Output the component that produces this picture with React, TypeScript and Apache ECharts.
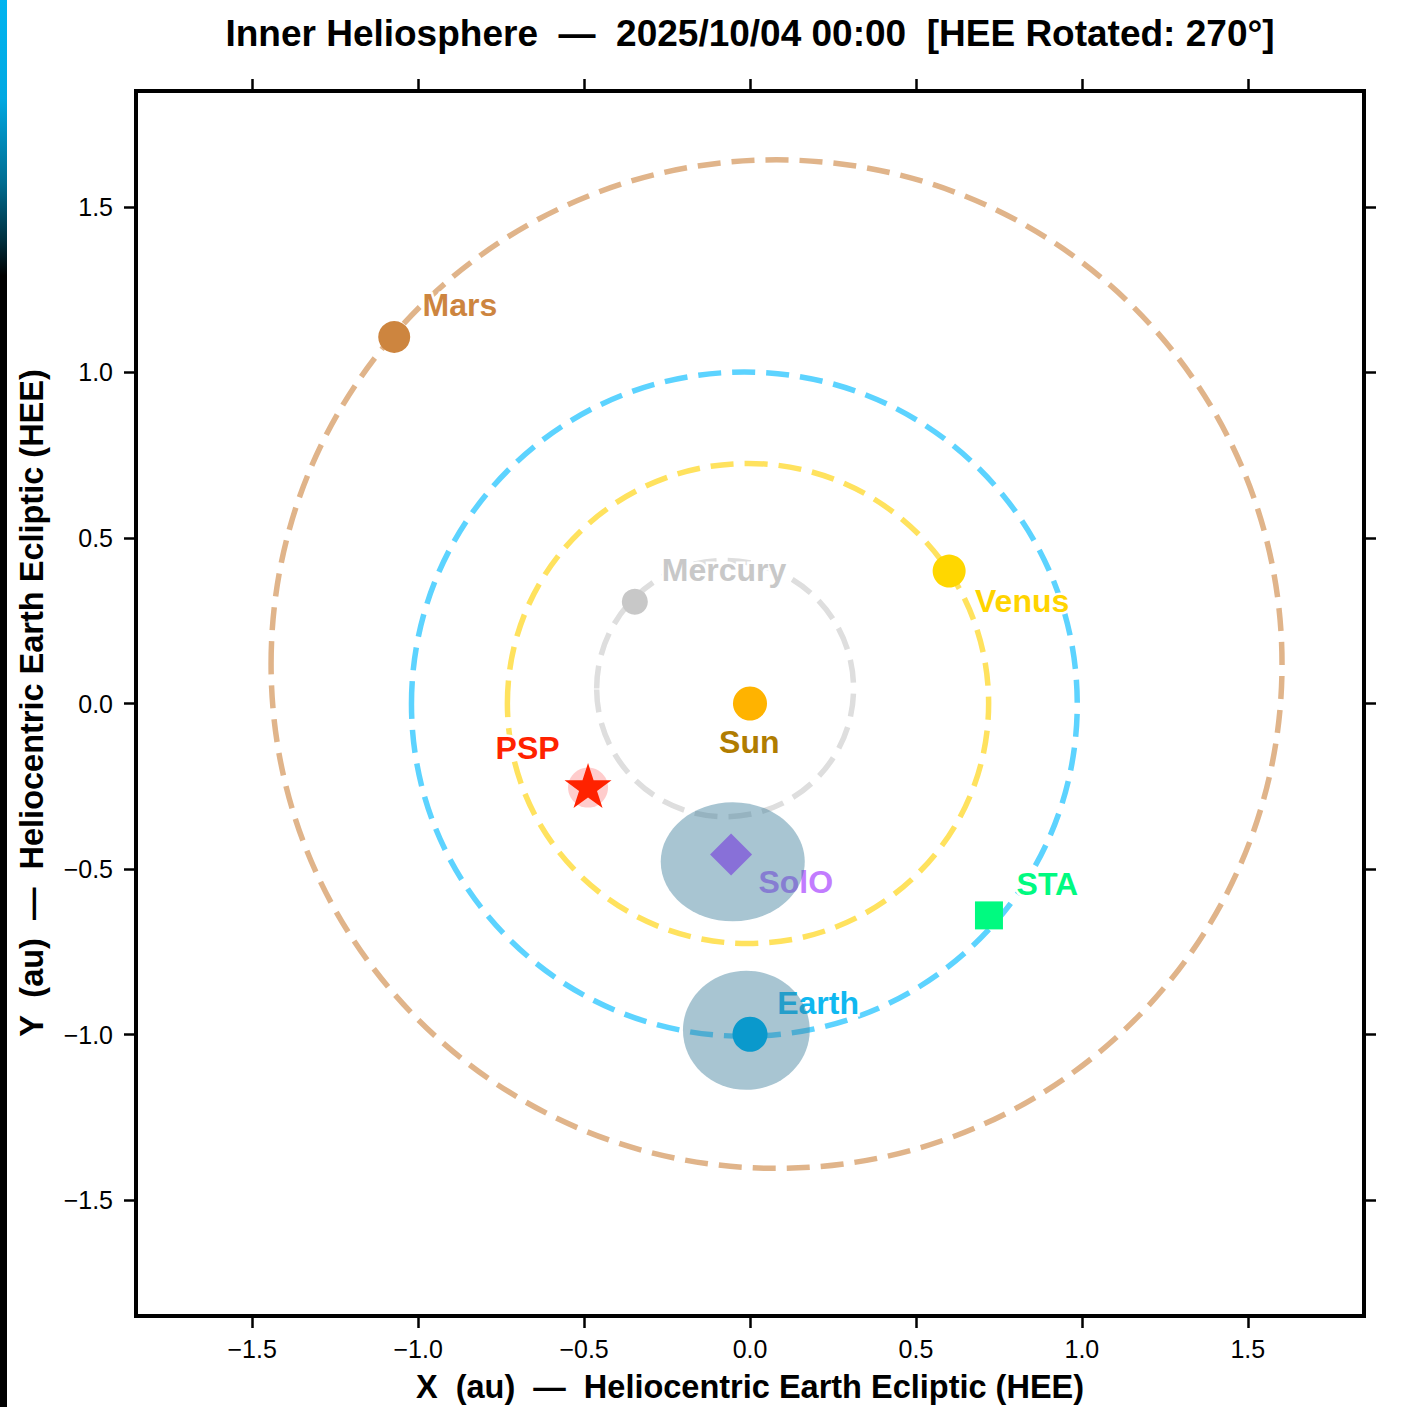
import React, { useEffect, useRef } from "react";
import * as echarts from "echarts";

const FONT = "'Liberation Sans', Arial, Helvetica, sans-serif";

const TITLE = "Inner Heliosphere  —  2025/10/04 00:00  [HEE Rotated: 270°]";
const X_NAME = "X  (au)  —  Heliocentric Earth Ecliptic (HEE)";
const Y_NAME = "Y  (au)  —  Heliocentric Earth Ecliptic (HEE)";

const AXIS_MIN = -1.85;
const AXIS_MAX = 1.85;
const X_TICKS = [-1.5, -1.0, -0.5, 0.0, 0.5, 1.0, 1.5];
const Y_TICKS = [-1.5, -1.0, -0.5, 0.0, 0.5, 1.0, 1.5];

// Orbits (au)
const ORBIT_NAMES = ["Mercury", "Venus", "Earth", "Mars"];
const ORBIT_CX = [-0.075, -0.006, -0.017, 0.08];
const ORBIT_CY = [0.045, 0.0, -0.002, 0.119];
const ORBIT_R = [0.387, 0.725, 1.003, 1.523];

// Bodies (au)
const BODY_NAMES = ["Sun", "Mercury", "Venus", "Earth", "Mars", "SolO", "PSP", "STA"];
const BODY_X = [0.0, -0.347, 0.6, 0.0, -1.072, -0.057, -0.488, 0.72];
const BODY_Y = [0.0, 0.307, 0.4, -0.999, 1.107, -0.456, -0.254, -0.64];

// Label anchor positions (au)
const LABEL_X = [-0.002, -0.078, 0.82, 0.205, -0.874, 0.138, -0.67, 0.896];
const LABEL_Y = [-0.116, 0.402, 0.311, -0.904, 1.204, -0.538, -0.134, -0.544];

// Field-of-view halos (au)
const HALO_NAMES = ["Earth", "SolO"];
const HALO_CX = [-0.011, -0.052];
const HALO_CY = [-0.987, -0.478];
const HALO_RX = [0.191, 0.217];
const HALO_RY = [0.18, 0.18];

// Styles
const ORBIT_COLORS = ["#DEDEDE", "#FFE25E", "#5CD3FF", "#E0B48A"];
const BODY_COLORS = ["#FFB300", "#C8C8C8", "#FFD700", "#0A99CC", "#CD853F", "#8870D8", "#FF2200", "#00FA80"];
const LABEL_COLORS = ["#B07C00", "#C8C8C8", "#FFD400", "#10B8F0", "#CD853F", "#C27CFF", "#FF2200", "#00FA80"];
const STAR =
  "path://M0,-100 L22.45,-30.9 L95.11,-30.9 L36.33,11.8 L58.78,80.9 L0,38.2 L-58.78,80.9 L-36.33,11.8 L-95.11,-30.9 L-22.45,-30.9 Z";
const BODY_SYMBOLS = ["circle", "circle", "circle", "circle", "circle", "diamond", STAR, "rect"];
const BODY_SIZES: any[] = [34, 26, 33, 35, 32, 42, [47, 45], 28];

const fmt = (v: number) => v.toFixed(1).replace("-", "\u2212");

export default function App() {
  const ref = useRef<HTMLDivElement>(null);

  useEffect(() => {
    if (!ref.current) return;
    const chart = echarts.init(ref.current, null, { renderer: "svg" });

    const orbitData = ORBIT_NAMES.map((n, i) => ({
      name: n,
      value: [ORBIT_CX[i], ORBIT_CY[i], ORBIT_R[i]],
    }));
    const haloData = HALO_NAMES.map((n, i) => ({
      name: n,
      value: [HALO_CX[i], HALO_CY[i], HALO_RX[i], HALO_RY[i]],
    }));
    const bodyData = BODY_NAMES.map((n, i) => ({
      name: n,
      value: [BODY_X[i], BODY_Y[i]],
      symbol: BODY_SYMBOLS[i],
      symbolSize: BODY_SIZES[i],
      symbolOffset: n === "PSP" ? [0, -2] : [0, 0],
      itemStyle: { color: BODY_COLORS[i], opacity: 1 },
    }));
    const labelData = BODY_NAMES.map((n, i) => ({
      name: n,
      value: [LABEL_X[i], LABEL_Y[i]],
    }));
    const pspIdx = BODY_NAMES.indexOf("PSP");

    const xBase = (position: string, showLabel: boolean) => ({
      type: "value",
      min: AXIS_MIN,
      max: AXIS_MAX,
      position,
      axisLine: { show: false, onZero: false },
      axisTick: {
        show: true,
        inside: false,
        length: 12,
        customValues: X_TICKS,
        lineStyle: { color: "#000", width: 2.5 },
      },
      axisLabel: {
        show: showLabel,
        customValues: X_TICKS,
        formatter: fmt,
        fontSize: 25,
        color: "#000",
        margin: 20,
        fontFamily: FONT,
      },
      splitLine: { show: false },
    });
    const yBase = (position: string, showLabel: boolean) => ({
      type: "value",
      min: AXIS_MIN,
      max: AXIS_MAX,
      position,
      axisLine: { show: false, onZero: false },
      axisTick: {
        show: true,
        inside: false,
        length: 12,
        customValues: Y_TICKS,
        lineStyle: { color: "#000", width: 2.5 },
      },
      axisLabel: {
        show: showLabel,
        customValues: Y_TICKS,
        formatter: fmt,
        fontSize: 25,
        color: "#000",
        margin: 23,
        fontFamily: FONT,
      },
      splitLine: { show: false },
    });

    const option: any = {
      animation: false,
      backgroundColor: "#fff",
      grid: {
        left: 136,
        top: 91,
        width: 1228,
        height: 1225,
        show: true,
        borderColor: "#000",
        borderWidth: 4,
        backgroundColor: "transparent",
      },
      graphic: [
        {
          type: "rect",
          left: 0,
          top: 0,
          shape: { width: 7, height: 1407 },
          style: {
            fill: new echarts.graphic.LinearGradient(0, 0, 0, 1, [
              { offset: 0, color: "#00B4F0" },
              { offset: 0.07, color: "#00A8E2" },
              { offset: 0.13, color: "#006C90" },
              { offset: 0.17, color: "#00303F" },
              { offset: 0.196, color: "#000000" },
              { offset: 1, color: "#000000" },
            ]),
          },
          silent: true,
        },
        {
          type: "text",
          x: 750,
          y: 33,
          style: {
            text: TITLE,
            fontSize: 37,
            fontWeight: "bold",
            fontFamily: FONT,
            fill: "#000",
            align: "center",
            verticalAlign: "middle",
          },
        },
        {
          type: "text",
          x: 750,
          y: 1387,
          style: {
            text: X_NAME,
            fontSize: 32.5,
            fontWeight: "bold",
            fontFamily: FONT,
            fill: "#000",
            align: "center",
            verticalAlign: "middle",
          },
        },
        {
          type: "text",
          x: 32,
          y: 703,
          rotation: Math.PI / 2,
          style: {
            text: Y_NAME,
            fontSize: 32.5,
            fontWeight: "bold",
            fontFamily: FONT,
            fill: "#000",
            align: "center",
            verticalAlign: "middle",
          },
        },
      ],
      xAxis: [xBase("bottom", true), xBase("top", false)],
      yAxis: [yBase("left", true), yBase("right", false)],
      series: [
        {
          type: "custom",
          name: "orbits",
          z: 1,
          clip: false,
          data: orbitData,
          renderItem: (params: any, api: any) => {
            const c = api.coord([api.value(0), api.value(1)]);
            const s = api.size([api.value(2), api.value(2)]);
            return {
              type: "ellipse",
              shape: { cx: c[0], cy: c[1], rx: s[0], ry: s[1] },
              style: {
                fill: "none",
                stroke: ORBIT_COLORS[params.dataIndex],
                lineWidth: 5.5,
                lineDash: [23, 11],
              },
            };
          },
        },
        {
          type: "custom",
          name: "labels",
          z: 2,
          clip: false,
          silent: true,
          data: labelData,
          renderItem: (params: any, api: any) => {
            const c = api.coord([api.value(0), api.value(1)]);
            return {
              type: "text",
              x: c[0],
              y: c[1],
              style: {
                text: BODY_NAMES[params.dataIndex],
                fill: LABEL_COLORS[params.dataIndex],
                fontSize: 32,
                fontWeight: "bold",
                fontFamily: FONT,
                align: "center",
                verticalAlign: "middle",
                stroke: "#fff",
                lineWidth: 5,
                strokeFirst: true,
              },
            };
          },
        },
        {
          type: "custom",
          name: "halos",
          z: 3,
          clip: false,
          data: haloData,
          renderItem: (params: any, api: any) => {
            const c = api.coord([api.value(0), api.value(1)]);
            const s = api.size([api.value(2), api.value(3)]);
            return {
              type: "ellipse",
              shape: { cx: c[0], cy: c[1], rx: s[0], ry: s[1] },
              style: { fill: "rgba(62,126,155,0.45)", stroke: "none" },
            };
          },
        },
        {
          type: "scatter",
          name: "PSP halo",
          z: 4,
          symbol: "circle",
          symbolSize: 40,
          itemStyle: { color: "rgba(255,0,0,0.2)", opacity: 1 },
          data: [{ name: "PSP", value: [BODY_X[pspIdx], BODY_Y[pspIdx]] }],
        },
        {
          type: "scatter",
          name: "bodies",
          z: 5,
          data: bodyData,
        },
      ],
    };

    chart.setOption(option);
    return () => chart.dispose();
  }, []);

  return (
    <div
      ref={ref}
      style={{ position: "absolute", left: 0, top: 0, width: 1419, height: 1407 }}
    />
  );
}
